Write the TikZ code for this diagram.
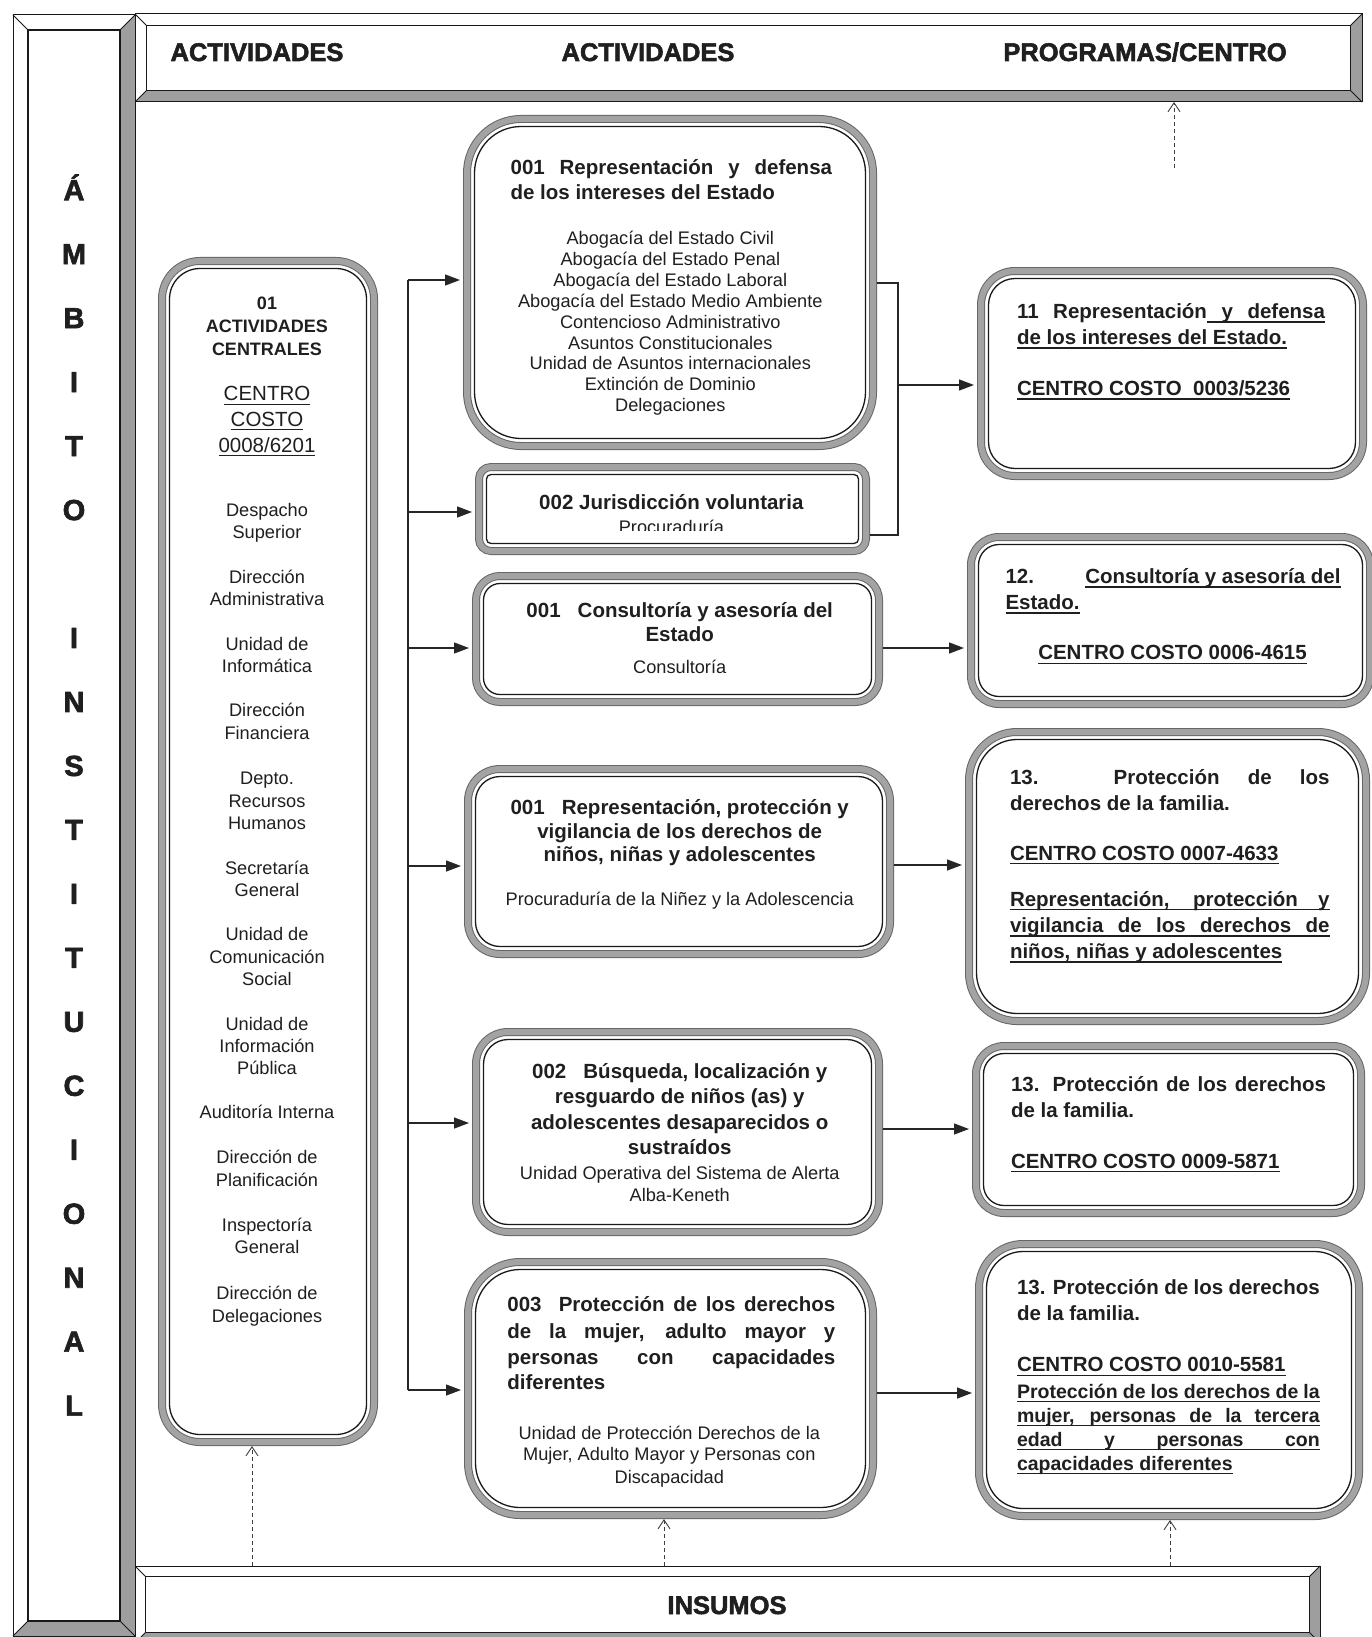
\documentclass[tikz,border=0pt]{standalone}
\usepackage{fontspec}
\setmainfont{Liberation Sans}
\newfontfamily\hvyfont{Liberation Sans}[FakeBold=2.2]
\usetikzlibrary{arrows.meta}
\newcommand{\ulw}[1]{\setbox0\hbox{#1}\rlap{\vrule height -2.6pt depth 4.1pt width \wd0}\box0}
\newcommand{\ulsp}{\leaders\vrule height -2.6pt depth 4.1pt\hskip 0.28em plus 1fil\relax}
\newcommand{\dbox}[6]{%
  \pgfmathsetmacro{\dbcx}{(#2+#4)/2}%
  \pgfmathsetmacro{\dbcy}{(#3+#5)/2}%
  \pgfmathsetmacro{\dbw}{#4-#2-8}%
  \pgfmathsetmacro{\dbh}{#5-#3-8}%
  \pgfmathsetmacro{\dbwi}{#4-#2-23}%
  \pgfmathsetmacro{\dbhi}{#5-#3-23}%
  \pgfmathsetmacro{\dbr}{#6-4}%
  \pgfmathsetmacro{\dbri}{#6-11.5}%
  \node[band, minimum width=\dbw pt, minimum height=\dbh pt, rounded corners=\dbr pt] (#1) at (\dbcx,\dbcy) {};
  \node[inline, minimum width=\dbwi pt, minimum height=\dbhi pt, rounded corners=\dbri pt] (#1-in) at (\dbcx,\dbcy) {};
}
\newcommand{\bevel}[5]{%
  \fill[white] (#1,#2) rectangle (#3,#4);
  \fill[bevg] (#1,#4) -- (#3,#4) -- (#3,#2) -- (#3-#5,#2+#5) -- (#3-#5,#4-#5) -- (#1+#5,#4-#5) -- cycle;
  \draw[frame] (#1,#2) rectangle (#3,#4);
  \draw[frame, line width=1.6pt] (#1+#5,#2+#5) rectangle (#3-#5,#4-#5);
  \draw[frame] (#1,#2) -- (#1+#5,#2+#5) (#3,#2) -- (#3-#5,#2+#5) (#1,#4) -- (#1+#5,#4-#5) (#3,#4) -- (#3-#5,#4-#5);
}
\begin{document}
\begin{tikzpicture}[x=1pt,y=-1pt,
 every node/.style={inner sep=0pt, outer sep=0pt, text=black!88},
 tr/.style={font=\fontsize{18.2}{21}\selectfont, anchor=base},
 tb/.style={font=\bfseries\fontsize{20.5}{25}\selectfont, anchor=base},
 tbs/.style={font=\bfseries\fontsize{19.5}{24}\selectfont, anchor=base},
 tlb/.style={font=\bfseries\fontsize{18}{22}\selectfont, anchor=base},
 tlu/.style={font=\fontsize{20.5}{25}\selectfont, anchor=base},
 hd/.style={font=\hvyfont\bfseries\fontsize{25.5}{30}\selectfont, anchor=base},
 vl/.style={font=\hvyfont\bfseries\fontsize{29}{34}\selectfont, anchor=base},
 band/.style={draw=black!60, double=black!36, double distance=6pt, line width=1pt, outer sep=4pt},
 inline/.style={draw=black!90, line width=1.3pt},
 frame/.style={draw=black!90, line width=1pt},
 bevg/.style={fill=black!38},
 ln/.style={draw=black!85, line width=1.3pt},
 arr/.style={ln, shorten >=3pt, -{Triangle[length=15pt,width=11pt]}},
 darr/.style={draw=black!75, line width=0.9pt, dash pattern=on 4pt off 3pt, -{Straight Barb[length=9pt,width=12pt]}}
]
\useasboundingbox (0,0) rectangle (1372,1637);
\fill[white] (0,0) rectangle (1372,1637);

% ---------- bevel frames ----------
\bevel{13}{15}{135}{1636}{15}
\bevel{135}{14}{1362}{102}{11.5}
\bevel{135}{1566}{1320}{1643}{10.5}
\node[minimum width=1227pt, minimum height=88pt] (TOP) at (748.5,58) {};
\node[minimum width=1185pt, minimum height=77pt] (INS) at (727.5,1604.5) {};

\node[hd] (h1) at (257,61) {ACTIVIDADES};
\node[hd] (h2) at (648,61) {ACTIVIDADES};
\node[hd] (h3) at (1145,61) {PROGRAMAS/CENTRO};
\node[hd] (h4) at (727,1614) {INSUMOS};

\foreach \c/\k in {Á/0,M/1,B/2,I/3,T/4,O/5,I/7,N/8,S/9,T/10,I/11,T/12,U/13,C/14,I/15,O/16,N/17,A/18,L/19}
  \node[vl] (V\k) at (74,200.2+\k*63.97) {\c};

% ---------- boxes ----------
\dbox{LB}{158}{257}{378}{1446}{42}
\dbox{A}{463}{115}{877}{450}{58}
\dbox{B}{475}{463}{870}{555}{16}
\dbox{C}{472}{572}{883}{706}{28}
\dbox{D}{464}{765}{894}{958}{36}
\dbox{E}{472}{1028}{883}{1236}{36}
\dbox{F}{464}{1258}{877}{1519}{56}
\dbox{R1}{977}{267}{1367}{480}{38}
\dbox{R2}{967}{533}{1374}{708}{32}
\dbox{R3}{965}{728}{1370}{1025}{52}
\dbox{R4}{972}{1042}{1365}{1217}{32}
\dbox{R5}{975}{1240}{1363}{1520}{48}

% ---------- connectors ----------
\coordinate (k1) at (408,280);
\coordinate (k2) at (408,512);
\coordinate (k3) at (408,648);
\coordinate (k4) at (408,866);
\coordinate (k5) at (408,1123);
\coordinate (k6) at (408,1390);
\draw[ln] (k1) -- (k6);
\draw[arr] (k1) -- (k1 -| A.west);
\draw[arr] (k2) -- (k2 -| B.west);
\draw[arr] (k3) -- (k3 -| C.west);
\draw[arr] (k4) -- (k4 -| D.west);
\draw[arr] (k5) -- (k5 -| E.west);
\draw[arr] (k6) -- (k6 -| F.west);

\coordinate (m1) at (898,283);
\coordinate (m2) at (898,535);
\coordinate (m3) at (898,385);
\draw[ln] (m1 -| A.east) -- (m1) -- (m2) -- (m2 -| B.east);
\draw[arr] (m3) -- (m3 -| R1.west);

\coordinate (y2) at (0,648);
\coordinate (y3) at (0,865);
\coordinate (y4) at (0,1129);
\coordinate (y5) at (0,1393);
\draw[arr] (y2 -| C.east) -- (y2 -| R2.west);
\draw[arr] (y3 -| D.east) -- (y3 -| R3.west);
\draw[arr] (y4 -| E.east) -- (y4 -| R4.west);
\draw[arr] (y5 -| F.east) -- (y5 -| R5.west);

\coordinate (d1) at (252,0);
\coordinate (d2) at (664,0);
\coordinate (d3) at (1170,0);
\coordinate (d4) at (1174,168);
\draw[darr] (d1 |- INS.north) -- (d1 |- LB.south);
\draw[darr] (d2 |- INS.north) -- (d2 |- F.south);
\draw[darr] (d3 |- INS.north) -- (d3 |- R5.south);
\draw[darr] (d4) -- (d4 |- TOP.south);

% ---------- left box text ----------
\node[tlb] (l01) at (267,309.3) {01};
\node[tlb] (l02) at (267,332.3) {ACTIVIDADES};
\node[tlb] (l03) at (267,355.2) {CENTRALES};
\node[tlu] (l04) at (267,400.9) {\ulw{CENTRO}};
\node[tlu] (l05) at (267,426) {\ulw{COSTO}};
\node[tlu] (l06) at (267,452.1) {\ulw{0008/6201}};
\foreach \t/\y [count=\i] in {Despacho/516, Superior/538, Dirección/583, Administrativa/605, Unidad de/650, Informática/672, Dirección/716.5, Financiera/739.5, Depto./784.4, Recursos/807.3, Humanos/829.3, Secretaría/874.1, General/896.1, Unidad de/940, Comunicación/963, Social/985, Unidad de/1030, Información/1052, Pública/1074, Auditoría Interna/1118.5, Dirección de/1163.4, Planificación/1186.3, Inspectoría/1231.2, General/1253.2, Dirección de/1299.1, Delegaciones/1322.1}
  \node[tr] (L\i) at (267,\y) {\t};

% ---------- box A ----------
\node[tb, anchor=base west] (Aa) at (510.6,174.4) {\makebox[321.5pt][s]{001 Representación y defensa}};
\node[tb, anchor=base west] (Ab) at (510.6,199.4) {de los intereses del Estado};
\foreach \t [count=\i from 0] in {Abogacía del Estado Civil, Abogacía del Estado Penal, Abogacía del Estado Laboral, Abogacía del Estado Medio Ambiente, Contencioso Administrativo, Asuntos Constitucionales, Unidad de Asuntos internacionales, Extinción de Dominio, Delegaciones}
  \node[tr] (Al\i) at (670.3,244.6+\i*20.88) {\t};

% ---------- box B ----------
\node[tb] (Ba) at (671.4,509.5) {002 Jurisdicción voluntaria};
\begin{scope}
\clip (480,470) rectangle (865,530);
\node[tr] (Bb) at (671.4,533) {Procuraduría};
\end{scope}

% ---------- box C ----------
\node[tb] (Ca) at (679.7,617.1) {001\ \ \ Consultoría y asesoría del};
\node[tb] (Cb) at (679.7,641.1) {Estado};
\node[tr] (Cc) at (679.7,673.7) {Consultoría};

% ---------- box D ----------
\node[tb] (Da) at (679.7,814.4) {001\ \ \ Representación, protección y};
\node[tb] (Db) at (679.7,838.4) {vigilancia de los derechos de};
\node[tb] (Dc) at (679.7,861.4) {niños, niñas y adolescentes};
\node[tr] (Dd) at (679.7,905.5) {Procuraduría de la Niñez y la Adolescencia};

% ---------- box E ----------
\node[tb] (Ea) at (679.7,1078.5) {002\ \ \ Búsqueda, localización y};
\node[tb] (Eb) at (679.7,1103.6) {resguardo de niños (as) y};
\node[tb] (Ec) at (679.7,1129.7) {adolescentes desaparecidos o};
\node[tb] (Ed) at (679.7,1154.8) {sustraídos};
\node[tr] (Ee) at (679.7,1179) {Unidad Operativa del Sistema de Alerta};
\node[tr] (Ef) at (679.7,1201) {Alba-Keneth};

% ---------- box F ----------
\node[tb, anchor=base west] (Fa) at (507.4,1311.4) {\makebox[327.9pt][s]{003\ \ Protección de los derechos}};
\node[tb, anchor=base west] (Fb) at (507.4,1338.5) {\makebox[327.9pt][s]{de la mujer, adulto mayor y}};
\node[tb, anchor=base west] (Fc) at (507.4,1364.6) {\makebox[327.9pt][s]{personas con capacidades}};
\node[tb, anchor=base west] (Fd) at (507.4,1389.7) {diferentes};
\node[tr] (Fe) at (669.3,1439) {Unidad de Protección Derechos de la};
\node[tr] (Ff) at (669.3,1460.9) {Mujer, Adulto Mayor y Personas con};
\node[tr] (Fg) at (669.3,1483.9) {Discapacidad};

% ---------- R1 ----------
\node[tb, anchor=base west] (R1a) at (1017,318.4) {\hbox to 308pt{11\hskip .28em plus 1fil\relax Representación\ulsp\ulw{y}\ulsp\ulw{defensa}}};
\node[tb, anchor=base west] (R1b) at (1017,344.5) {\ulw{de los intereses del Estado.}};
\node[tb, anchor=base west] (R1c) at (1017,395.7) {\ulw{CENTRO COSTO\ \ 0003/5236}};

% ---------- R2 ----------
\node[tb, anchor=base west] (R2a) at (1005.5,583.6) {\hbox to 335pt{12.\hfill\ulw{Consultoría y asesoría del}}};
\node[tb, anchor=base west] (R2b) at (1005.5,609.7) {\ulw{Estado.}};
\node[tb] (R2c) at (1172.5,659.9) {\ulw{CENTRO COSTO 0006-4615}};

% ---------- R3 ----------
\node[tb, anchor=base west] (R3a) at (1010,784.1) {\makebox[319.5pt][s]{13. Protección de los}};
\node[tb, anchor=base west] (R3b) at (1010,810.2) {derechos de la familia.};
\node[tb, anchor=base west] (R3c) at (1010,860.3) {\ulw{CENTRO COSTO 0007-4633}};
\node[tb, anchor=base west] (R3d) at (1010,906.3) {\ulw{\makebox[319.5pt][s]{Representación, protección y}}};
\node[tb, anchor=base west] (R3e) at (1010,932.4) {\ulw{\makebox[319.5pt][s]{vigilancia de los derechos de}}};
\node[tb, anchor=base west] (R3f) at (1010,958.5) {\ulw{niños, niñas y adolescentes}};

% ---------- R4 ----------
\node[tb, anchor=base west] (R4a) at (1011,1091.1) {\makebox[315pt][s]{13. Protección de los derechos}};
\node[tb, anchor=base west] (R4b) at (1011,1117.2) {de la familia.};
\node[tb, anchor=base west] (R4c) at (1011,1168.3) {\ulw{CENTRO COSTO 0009-5871}};

% ---------- R5 ----------
\node[tb, anchor=base west] (R5a) at (1017,1294.7) {\makebox[302.7pt][s]{13. Protección de los derechos}};
\node[tb, anchor=base west] (R5b) at (1017,1320.8) {de la familia.};
\node[tb, anchor=base west] (R5c) at (1017,1371.9) {\ulw{CENTRO COSTO 0010-5581}};
\node[tbs, anchor=base west] (R5d) at (1017,1398) {\ulw{\makebox[302.7pt][s]{Protección de los derechos de la}}};
\node[tbs, anchor=base west] (R5e) at (1017,1422.1) {\ulw{\makebox[302.7pt][s]{mujer, personas de la tercera}}};
\node[tbs, anchor=base west] (R5f) at (1017,1446.1) {\ulw{\makebox[302.7pt][s]{edad y personas con}}};
\node[tbs, anchor=base west] (R5g) at (1017,1470.1) {\ulw{capacidades diferentes}};
\end{tikzpicture}
\end{document}
